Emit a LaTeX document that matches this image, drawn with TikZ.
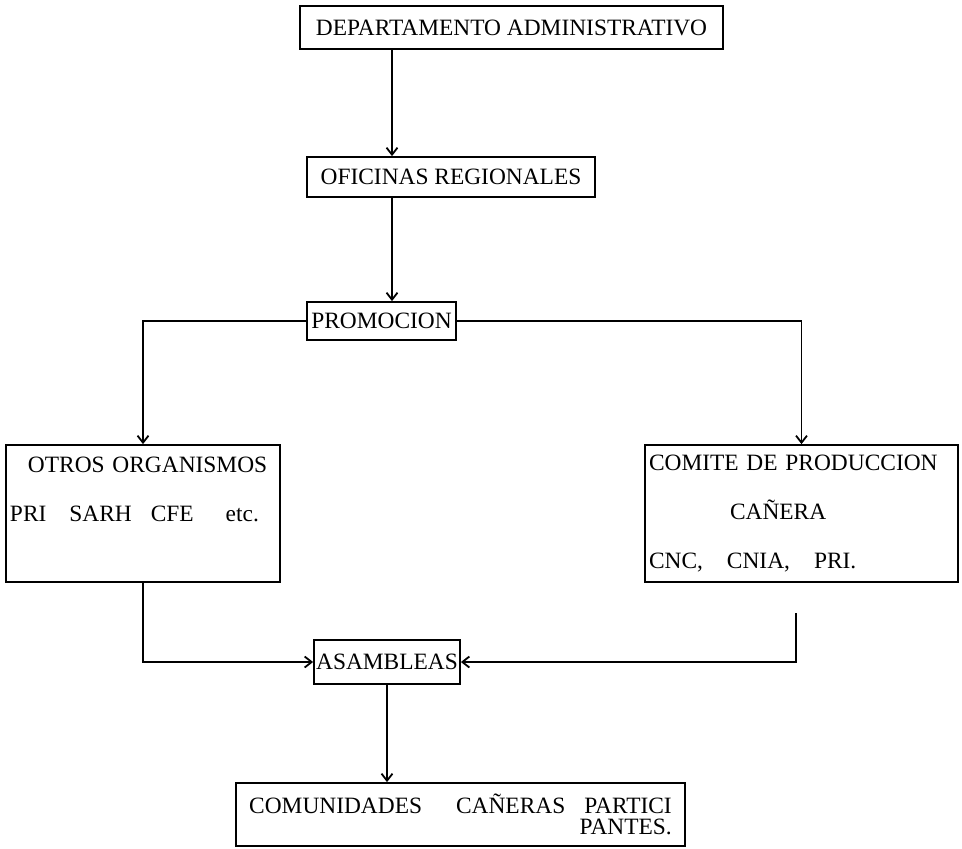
\documentclass[tikz,border=0pt]{standalone}
\usepackage{fontspec}
\setmainfont{Liberation Serif}
\usetikzlibrary{arrows.meta}

\begin{document}
\begin{tikzpicture}[x=0.5pt,y=-0.5pt,line width=0.9pt,
>={Straight Barb[length=3.5pt,width=5.5pt]}]
\tikzstyle{every node}=[draw,inner sep=1pt,line width=0.9pt,
font=\fontsize{11.7}{14}\selectfont]
\tikzstyle{bloque}=[align=left,inner xsep=2pt,
font=\fontsize{11.7}{24.5}\selectfont]

\useasboundingbox (0,0) rectangle (962,848);

\node (dep) [minimum width=211.5pt,minimum height=21.5pt] at (511.5,27.5)
{DEPARTAMENTO ADMINISTRATIVO};
\node (ofi) [minimum width=144pt,minimum height=20pt] at (451,177)
{OFICINAS REGIONALES};
\node (pro) [minimum width=74.5pt,minimum height=19pt] at (381.5,321)
{PROMOCION};

\node (otr) [bloque,text width=133pt,minimum height=68.5pt] at (143,513.5)
{\hspace*{9pt}OTROS ORGANISMOS\\
PRI\hspace{11.5pt}SARH\hspace{9.5pt}CFE\hspace{16pt}etc.\\
~};
\node (com) [bloque,text width=152.5pt,minimum height=68.5pt] at (801.5,513.5)
{COMITE DE PRODUCCION\\
\hspace*{40.5pt}CAÑERA\\
CNC,\hspace{12pt}CNIA,\hspace{12pt}PRI.};

\node (asa) [minimum width=73pt,minimum height=22pt] at (387,662)
{ASAMBLEAS};
\node (comu) [align=right,minimum width=224.5pt,minimum height=31.5pt,
font=\fontsize{11.7}{12}\selectfont] at (460.5,814.5)
{COMUNIDADES\hspace{17pt}CAÑERAS\hspace{9.5pt}PARTICI\\[-1.5pt]
PANTES.};

\coordinate (eje) at (392,0);
\coordinate (comfin) at (796,613);

\draw[->] (eje |- dep.south) -- (eje |- ofi.north);
\draw[->] (eje |- ofi.south) -- (eje |- pro.north);
\draw[->] (pro.west) -| (otr.north);
\draw[->] (pro.east) -| (com.north);
\draw[->] (otr.south) |- (asa.west);
\draw[->] (comfin) |- (asa.east);
\draw[->] (asa.south) -- (asa.south |- comu.north);
\end{tikzpicture}
\end{document}
